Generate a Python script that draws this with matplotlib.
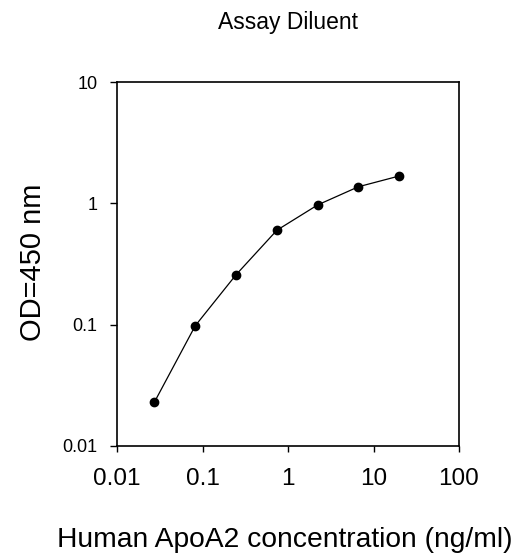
import numpy as np
import matplotlib.pyplot as plt

# ApoA2 standard curve, log-log
conc = [0.0274, 0.0823, 0.247, 0.741, 2.222, 6.667, 20.0]
od450 = [0.023, 0.098, 0.258, 0.60, 0.97, 1.37, 1.68]
x_ticks = [0.01, 0.1, 1, 10, 100]
x_tick_labels = ["0.01", "0.1", "1", "10", "100"]
y_ticks = [0.01, 0.1, 1, 10]
y_tick_labels = ["0.01", "0.1", "1", "10"]

plt.rcParams['font.family'] = ['Liberation Sans', 'DejaVu Sans']

fig = plt.figure(figsize=(5.28, 5.56), dpi=100)
ax = fig.add_axes([117/528, 1 - 446/556, (459 - 117)/528, (446 - 82)/556])

ax.plot(conc, od450, color="black", linewidth=0.9, marker="o", markersize=6)

ax.set_xscale("log")
ax.set_yscale("log")
ax.set_xlim(0.01, 100)
ax.set_ylim(0.01, 10)
ax.set_xticks(x_ticks)
ax.set_xticklabels(x_tick_labels)
ax.set_yticks(y_ticks)
ax.set_yticklabels(y_tick_labels)
ax.minorticks_off()
ax.tick_params(axis="x", direction="out", length=4, width=1, labelsize=17.5, pad=12)
ax.tick_params(axis="y", direction="out", length=5, width=1, labelsize=13, pad=9)
for s in ax.spines.values():
    s.set_linewidth(1.2)

ax.set_xlabel("Human ApoA2 concentration (ng/ml)", fontsize=20.3, va="center")
ax.xaxis.set_label_coords(0.49, -0.258)
ax.set_ylabel("OD=450 nm", fontsize=21, va="center")
ax.yaxis.set_label_coords(-0.245, 0.505)
fig.text(288/528, 1 - 22/556, "Assay Diluent", ha="center", va="center", fontsize=16.5)

fig.savefig("out.png", dpi=100)
